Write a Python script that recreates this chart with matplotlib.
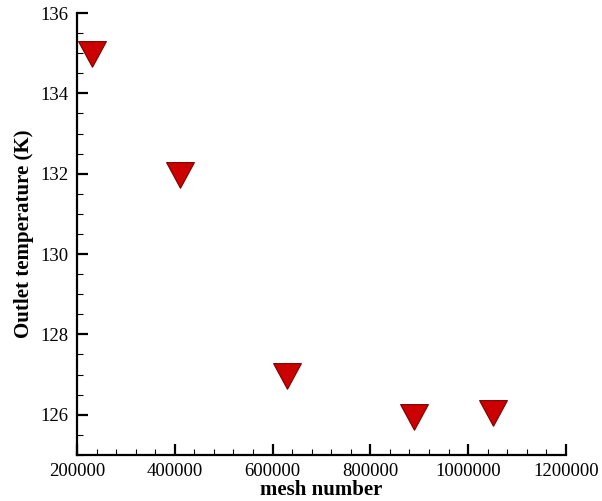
import matplotlib
matplotlib.use("Agg")
import matplotlib.pyplot as plt
from matplotlib.ticker import MultipleLocator

# data
mesh_number = [230000, 410000, 630000, 890000, 1050000]
outlet_temp = [134.95, 131.95, 126.95, 125.93, 126.03]

x_ticks = [200000, 400000, 600000, 800000, 1000000, 1200000]
y_ticks = [126, 128, 130, 132, 134, 136]

plt.rcParams["font.family"] = ["Liberation Serif", "DejaVu Serif"]

fig = plt.figure(figsize=(6.02, 5.01), dpi=100)
ax = fig.add_axes([0.128, 0.092, 0.812, 0.882])

# wide down-pointing triangle like the Tecplot symbol
tri = [(0, -0.85), (-1, 1), (1, 1), (0, -0.85)]
ax.plot(mesh_number, outlet_temp, linestyle="none", marker=tri, markersize=20,
        markerfacecolor="#cc0000", markeredgecolor="#7a0000", markeredgewidth=0.8,
        clip_on=False)

ax.set_xlim(200000, 1200000)
ax.set_ylim(125, 136)
ax.set_xticks(x_ticks)
ax.set_yticks(y_ticks)
ax.set_xticklabels([str(v) for v in x_ticks])
ax.set_yticklabels([str(v) for v in y_ticks])
ax.xaxis.set_minor_locator(MultipleLocator(40000))
ax.yaxis.set_minor_locator(MultipleLocator(0.5))

for side in ("top", "right"):
    ax.spines[side].set_visible(False)
for side in ("left", "bottom"):
    ax.spines[side].set_linewidth(1.6)

ax.tick_params(which="major", direction="in", length=8, width=1.6, labelsize=13.5, pad=6)
ax.tick_params(which="minor", direction="in", length=4, width=0.8)

ax.set_xlabel("mesh number", fontsize=15, fontweight="bold", labelpad=0)
ax.set_ylabel("Outlet temperature (K)", fontsize=15, fontweight="bold", labelpad=5)

fig.savefig("out.png", dpi=100)
